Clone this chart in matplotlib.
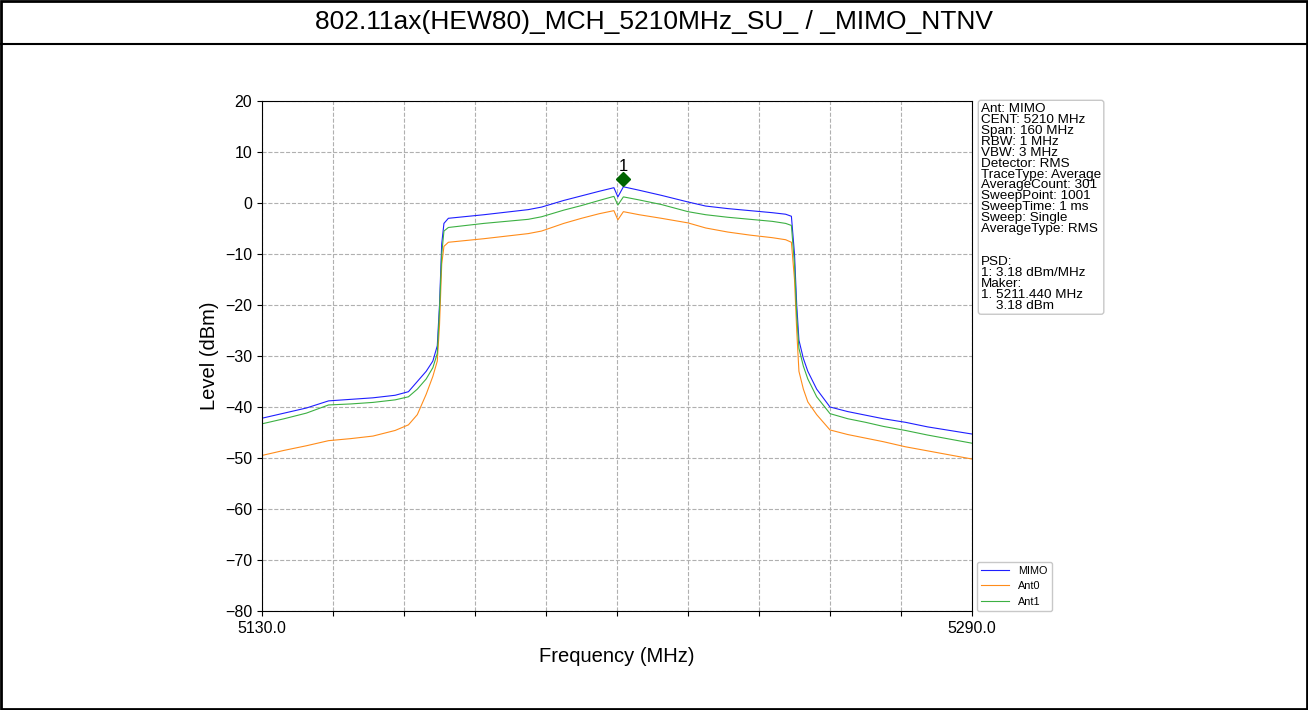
import matplotlib
matplotlib.use("Agg")
import matplotlib.pyplot as plt
from matplotlib.lines import Line2D
from matplotlib.patches import Rectangle

plt.rcParams["font.family"] = ["Liberation Sans", "DejaVu Sans"]

TITLE = "802.11ax(HEW80)_MCH_5210MHz_SU_ / _MIMO_NTNV"

# spectrum trace points (MHz, dBm)
freq = [5130, 5135, 5140, 5145, 5150, 5155, 5160, 5163, 5165, 5167, 5168.5, 5169.5,
        5170, 5170.5, 5171, 5172, 5180, 5185, 5190, 5193, 5198, 5202, 5206, 5209.3,
        5210.2, 5211.44, 5215, 5220, 5226, 5230, 5235, 5240, 5245, 5248, 5249.3,
        5250, 5250.5, 5251, 5252, 5253, 5255, 5258, 5262, 5266, 5270, 5275, 5280,
        5285, 5290]
mimo = [-42.2, -41.2, -40.2, -38.8, -38.5, -38.2, -37.7, -37.0, -35.0, -33.0, -31.0, -28.0,
        -20.0, -8.0, -4.0, -3.0, -2.3, -1.8, -1.3, -0.8, 0.5, 1.4, 2.3, 3.0,
        1.2, 3.18, 2.5, 1.5, 0.2, -0.6, -1.1, -1.5, -1.9, -2.2, -2.6,
        -10.0, -20.0, -26.9, -30.5, -33.0, -36.5, -40.0, -40.9, -41.6, -42.3, -43.0, -43.9,
        -44.6, -45.3]
ant0 = [-49.5, -48.5, -47.6, -46.6, -46.2, -45.7, -44.6, -43.5, -41.5, -37.5, -34.0, -31.0,
        -24.0, -12.0, -8.5, -7.7, -7.0, -6.5, -6.0, -5.5, -4.0, -3.0, -2.1, -1.5,
        -3.3, -1.7, -2.3, -3.0, -3.9, -4.9, -5.7, -6.3, -6.8, -7.2, -7.7,
        -15.0, -25.0, -33.0, -36.5, -39.0, -41.5, -44.5, -45.4, -46.1, -46.8, -47.8, -48.6,
        -49.4, -50.2]
ant1 = [-43.3, -42.3, -41.2, -39.6, -39.4, -39.1, -38.6, -38.0, -36.5, -34.5, -32.3, -29.5,
        -21.0, -10.0, -5.5, -4.8, -4.0, -3.6, -3.2, -2.7, -1.4, -0.5, 0.5, 1.3,
        -0.4, 1.2, 0.6, -0.3, -1.7, -2.3, -2.8, -3.2, -3.6, -4.0, -4.4,
        -12.0, -22.0, -28.5, -32.0, -34.5, -38.0, -41.3, -42.3, -43.0, -43.8, -44.6, -45.5,
        -46.3, -47.1]

marker_freq = 5211.44
marker_level = 3.18

info_lines = [
    "Ant: MIMO", "CENT: 5210 MHz", "Span: 160 MHz", "RBW: 1 MHz", "VBW: 3 MHz",
    "Detector: RMS", "TraceType: Average", "AverageCount: 301", "SweepPoint: 1001",
    "SweepTime: 1 ms", "Sweep: Single", "AverageType: RMS", "", "",
    "PSD:", "1: 3.18 dBm/MHz", "Maker:", "1. 5211.440 MHz", "    3.18 dBm",
]

fig = plt.figure(figsize=(13.08, 7.10), dpi=100)

# frame + title bar
fig.add_artist(Rectangle((0.001, 0.001), 0.998, 0.997, transform=fig.transFigure,
                         fill=False, lw=2, ec="black"))
fig.add_artist(Line2D([0, 1], [1 - 44 / 710, 1 - 44 / 710], transform=fig.transFigure,
                      color="black", lw=1.5))
fig.text(0.5, 1 - 22 / 710, TITLE, ha="center", va="center", fontsize=19)

ax = fig.add_axes([262 / 1308, 99 / 710, 710 / 1308, 510 / 710])
ax.plot(freq, mimo, color="#1f1fff", lw=0.8, label="MIMO")
ax.plot(freq, ant0, color="#ff8c1a", lw=0.8, label="Ant0")
ax.plot(freq, ant1, color="#3cb043", lw=0.8, label="Ant1")

ax.plot([marker_freq], [marker_level + 1.5], marker="D", color="darkgreen",
        markersize=7, ls="none")
ax.text(marker_freq, marker_level + 2.6, "1", ha="center", va="bottom", fontsize=12)

ax.set_xlim(5130, 5290)
ax.set_ylim(-80, 20)
xt = [5130 + 16 * i for i in range(11)]
ax.set_xticks(xt)
ax.set_xticklabels(["5130.0"] + [""] * 9 + ["5290.0"])
ax.set_yticks(range(-80, 21, 10))
ax.tick_params(labelsize=11.5)
ax.grid(True, ls="--", color="#b0b0b0", lw=0.8)
ax.set_xlabel("Frequency (MHz)", fontsize=14.5, labelpad=8)
ax.set_ylabel("Level (dBm)", fontsize=14.5)

fig.text(981 / 1308, 1 - 103 / 710, "\n".join(info_lines), ha="left", va="top",
         fontsize=9.7, linespacing=0.88,
         bbox=dict(boxstyle="round,pad=0.2", fc="white", ec="#c8c8c8"))

ax.legend(loc="lower left", bbox_to_anchor=(1.007, 0.0), fontsize=7.8,
          handlelength=2.6, borderaxespad=0.0, framealpha=1, edgecolor="#c8c8c8")

fig.savefig("out.png", dpi=100)
